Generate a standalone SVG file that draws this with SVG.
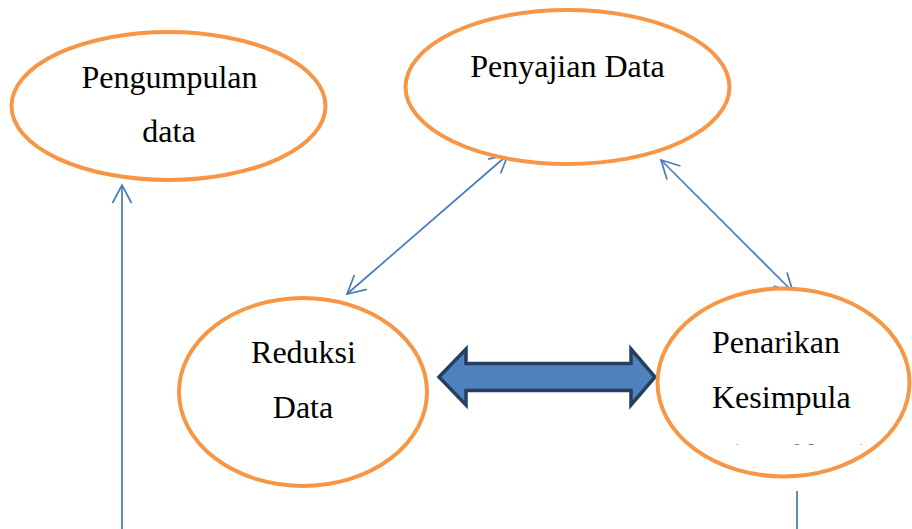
<svg xmlns="http://www.w3.org/2000/svg" width="912" height="529" viewBox="0 0 912 529">
  <style>
    .node ellipse { fill: #FFFFFF; stroke: #F79646; stroke-width: 4; }
    .label { font-family: "Liberation Serif", "Times New Roman", serif; font-size: 32px; fill: #000000; }
    .mid { text-anchor: middle; }
    .link { stroke: #4A7EBB; stroke-width: 1.75; fill: none; }
    .head { stroke: #4A7EBB; stroke-width: 1.75; fill: none; stroke-linejoin: miter; }
    .block { fill: #4F81BD; stroke: #243F60; stroke-width: 3.5; stroke-linejoin: miter; }
  </style>
  <defs>
    <marker id="openArrow" viewBox="0 0 20 20" refX="18" refY="10" markerWidth="20" markerHeight="20" markerUnits="userSpaceOnUse" orient="auto-start-reverse" overflow="visible">
      <path class="head" d="M0,0.5 L18,10 L0,19.5"/>
    </marker>
    <clipPath id="thirdLineClip">
      <rect x="700" y="430" width="212" height="14.5"/>
    </clipPath>
  </defs>
  <rect x="0" y="0" width="912" height="529" fill="#FFFFFF"/>

  <g id="connectors">
    <line class="link" x1="508" y1="154.5" x2="347" y2="294" marker-start="url(#openArrow)" marker-end="url(#openArrow)"/>
    <line class="link" x1="661" y1="160" x2="793" y2="292" marker-start="url(#openArrow)" marker-end="url(#openArrow)"/>
    <line class="link" x1="122" y1="529" x2="122" y2="185" marker-end="url(#openArrow)"/>
    <line class="link" x1="797" y1="491" x2="797" y2="529"/>
    <path class="block" d="M439,377 L466,349 L466,363.5 L631,363.5 L631,349 L655,377 L631,405 L631,390.5 L466,390.5 L466,405 Z"/>
  </g>

  <g id="pengumpulan-data" class="node">
    <ellipse cx="168.5" cy="106" rx="157" ry="74"/>
    <text class="label mid" x="169.5" y="88">Pengumpulan</text>
    <text class="label mid" x="169" y="142">data</text>
  </g>

  <g id="penyajian-data" class="node">
    <ellipse cx="567.5" cy="87" rx="162" ry="77"/>
    <text class="label mid" x="567.5" y="77">Penyajian Data</text>
  </g>

  <g id="reduksi-data" class="node">
    <ellipse cx="303" cy="392" rx="124" ry="94"/>
    <text class="label mid" x="303.5" y="363">Reduksi</text>
    <text class="label mid" x="303" y="418">Data</text>
  </g>

  <g id="penarikan-kesimpulan" class="node">
    <ellipse cx="783.5" cy="382.5" rx="126" ry="94"/>
    <text class="label" x="712" y="353">Penarikan</text>
    <text class="label" x="712" y="408">Kesimpula</text>
    <!-- third line of the label is cut off by its text box; only glyph tops remain -->
    <text class="label" x="712" y="466" clip-path="url(#thirdLineClip)">n(verifikasi)</text>
  </g>
</svg>
